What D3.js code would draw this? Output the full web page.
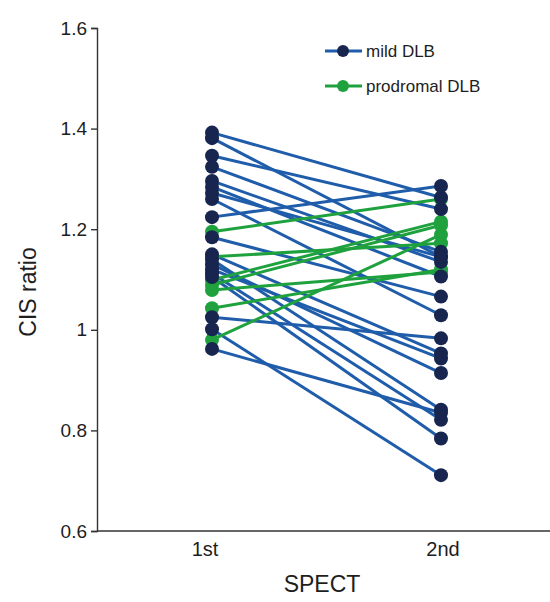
<!DOCTYPE html>
<html>
<head>
<meta charset="utf-8">
<script src="https://cdn.jsdelivr.net/npm/d3@7"></script>
<style>
  body { margin: 0; background: #fff; }
  svg { display: block; font-family: "Liberation Sans", Arial, sans-serif; }
</style>
</head>
<body>
<svg id="chart" width="550" height="602"></svg>
<script>
// time points and y ticks
const visits = ["1st", "2nd"];
const yTicks = [0.6, 0.8, 1, 1.2, 1.4, 1.6];
const seriesNames = ["mild DLB", "prodromal DLB"];

// mild DLB: CIS ratio at 1st and 2nd SPECT (paired by index)
const mildFirst  = [1.392, 1.381, 1.346, 1.324, 1.296, 1.284, 1.272, 1.260, 1.224, 1.184,
                    1.150, 1.140, 1.130, 1.120, 1.112, 1.105, 1.025, 1.001, 0.962];
const mildSecond = [1.263, 1.145, 1.240, 1.155, 1.135, 1.106, 1.145, 1.029, 1.286, 1.066,
                    0.953, 0.841, 0.914, 0.943, 0.821, 0.784, 0.983, 0.711, 0.835];

// prodromal DLB
const prodFirst  = [1.195, 1.145, 1.099, 1.089, 1.079, 1.043, 0.980];
const prodSecond = [1.260, 1.172, 1.215, 1.208, 1.115, 1.120, 1.189];

const lineCol = ["#1f5dab", "#1fa23e"];
const dotCol = ["#17254f", "#1fa23e"];

const svg = d3.select("#chart");
const x = d3.scalePoint().domain(visits).range([212, 441]);
const y = d3.scaleLinear().domain([0.6, 1.6]).range([531, 28]);

// axes
const yAxis = svg.append("g")
    .attr("transform", "translate(97,0)")
    .call(d3.axisLeft(y).tickValues(yTicks).tickFormat(d => +d.toFixed(1)).tickSizeOuter(0).tickSize(6).tickPadding(4));
yAxis.selectAll("text").attr("font-size", 19).attr("fill", "#1e1e1e").attr("font-family", "Liberation Sans, Arial, sans-serif");
yAxis.selectAll("line, path").attr("stroke", "#333").attr("stroke-width", 1.4);

svg.append("line")
    .attr("x1", 97).attr("x2", 550)
    .attr("y1", y(0.6)).attr("y2", y(0.6))
    .attr("stroke", "#333").attr("stroke-width", 1.6);

svg.selectAll(".xlab")
    .data(visits)
    .join("text")
    .attr("class", "xlab")
    .attr("x", (d, i) => x(d) + (i === 0 ? -7 : 2))
    .attr("y", 556)
    .attr("text-anchor", "middle")
    .attr("font-size", 20)
    .attr("fill", "#1e1e1e")
    .text(d => d);

svg.append("text")
    .attr("x", 322).attr("y", 592)
    .attr("text-anchor", "middle")
    .attr("font-size", 23)
    .attr("fill", "#1e1e1e")
    .text("SPECT");

svg.append("text")
    .attr("transform", "translate(36,292) rotate(-90)")
    .attr("text-anchor", "middle")
    .attr("font-size", 23)
    .attr("fill", "#1e1e1e")
    .text("CIS ratio");

// pair data
const mild = mildFirst.map((v, i) => [v, mildSecond[i]]);
const prod = prodFirst.map((v, i) => [v, prodSecond[i]]);

function drawLines(data, k) {
    svg.append("g")
        .selectAll("line")
        .data(data)
        .join("line")
        .attr("x1", x(visits[0])).attr("x2", x(visits[1]))
        .attr("y1", d => y(d[0])).attr("y2", d => y(d[1]))
        .attr("stroke", lineCol[k])
        .attr("stroke-width", 3);
}
function drawDots(data, k) {
    const pts = [];
    data.forEach(d => { pts.push([visits[0], d[0]]); pts.push([visits[1], d[1]]); });
    svg.append("g")
        .selectAll("circle")
        .data(pts)
        .join("circle")
        .attr("cx", d => x(d[0]))
        .attr("cy", d => y(d[1]))
        .attr("r", 7)
        .attr("fill", dotCol[k]);
}
drawLines(mild, 0);
drawLines(prod, 1);
drawDots(prod, 1);
drawDots(mild, 0);

// legend
const leg = svg.append("g");
seriesNames.forEach((name, i) => {
    const ly = 51 + i * 35;
    leg.append("line").attr("x1", 325).attr("x2", 362).attr("y1", ly).attr("y2", ly)
        .attr("stroke", lineCol[i]).attr("stroke-width", 3);
    leg.append("circle").attr("cx", 343).attr("cy", ly).attr("r", 6).attr("fill", dotCol[i]);
    leg.append("text").attr("x", 366).attr("y", ly + 6)
        .attr("font-size", 17).attr("fill", "#1e1e1e").text(name);
});
</script>
</body>
</html>
